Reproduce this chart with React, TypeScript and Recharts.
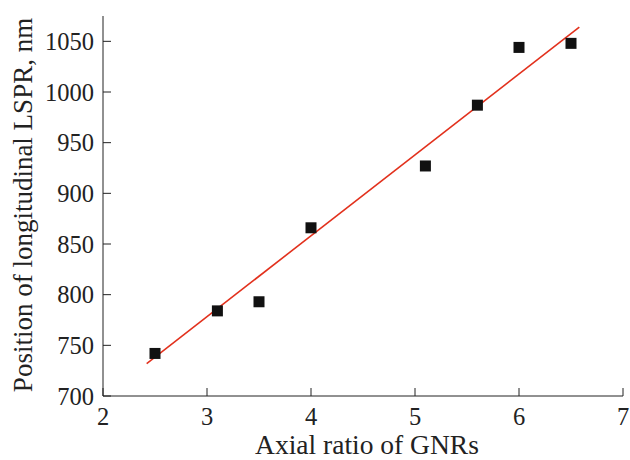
import { ScatterChart, Scatter, XAxis, YAxis } from "recharts";

// measured points: axial ratio vs LSPR position (nm)
const ratios = [2.5, 3.1, 3.5, 4.0, 5.1, 5.6, 6.0, 6.5];
const lspr = [742, 784, 793, 866, 927, 987, 1044, 1048];

// linear fit, ends as drawn
const fitRatios = [2.42, 6.58];
const fitLspr = [732, 1064];

const xTicks = [2, 3, 4, 5, 6, 7];
const yTicks = [700, 750, 800, 850, 900, 950, 1000, 1050];

const points = ratios.map((r, i) => ({ x: r, y: lspr[i] }));
const fit = fitRatios.map((r, i) => ({ x: r, y: fitLspr[i] }));

const FONT = "'Liberation Serif', 'Times New Roman', serif";
const INK = "#222";

const XTick = ({ x, y, payload }: any) => (
  <g>
    <line x1={x} y1={y} x2={x} y2={y - 8} stroke={INK} />
    <text x={x} y={y + 29} textAnchor="middle" fontFamily={FONT} fontSize={24.5} fill={INK}>
      {payload.value}
    </text>
  </g>
);

const YTick = ({ x, y, payload }: any) => (
  <g>
    <line x1={x} y1={y} x2={x + 8} y2={y} stroke={INK} />
    <text x={x - 9} y={y} dy="0.35em" textAnchor="end" fontFamily={FONT} fontSize={24.5} fill={INK}>
      {payload.value}
    </text>
  </g>
);

const Square = ({ cx, cy }: any) => (
  <rect x={cx - 5.5} y={cy - 5.5} width={11} height={11} fill="#111" />
);

export default function App() {
  return (
    <div style={{ position: "absolute", left: 0, top: 0, background: "#fff" }}>
      <ScatterChart width={630} height={460} margin={{ top: 16, right: 7, bottom: 0, left: 0 }}>
        <XAxis
          type="number"
          dataKey="x"
          domain={[2, 7]}
          ticks={xTicks}
          allowDataOverflow
          tickSize={0}
          tickMargin={0}
          height={64}
          stroke={INK}
          tick={<XTick />}
          label={({ viewBox }: any) => (
            <text
              x={viewBox.x + viewBox.width / 2 + 4}
              y={viewBox.y + viewBox.height - 6}
              textAnchor="middle"
              fontFamily={FONT}
              fontSize={27.5}
              fill={INK}
            >
              Axial ratio of GNRs
            </text>
          )}
        />
        <YAxis
          type="number"
          dataKey="y"
          domain={[700, 1075]}
          ticks={yTicks}
          allowDataOverflow
          tickSize={0}
          tickMargin={0}
          width={103}
          stroke={INK}
          tick={<YTick />}
          label={({ viewBox }: any) => {
            const cx = viewBox.x + 32;
            const cy = viewBox.y + viewBox.height / 2 - 1;
            return (
              <text
                x={cx}
                y={cy}
                transform={`rotate(-90 ${cx} ${cy})`}
                textAnchor="middle"
                fontFamily={FONT}
                fontSize={27}
                fill={INK}
              >
                Position of longitudinal LSPR, nm
              </text>
            );
          }}
        />
        <Scatter
          data={fit}
          line={{ stroke: "#e2311d", strokeWidth: 1.6 }}
          shape={() => <g />}
          isAnimationActive={false}
        />
        <Scatter data={points} shape={<Square />} isAnimationActive={false} />
      </ScatterChart>
    </div>
  );
}
